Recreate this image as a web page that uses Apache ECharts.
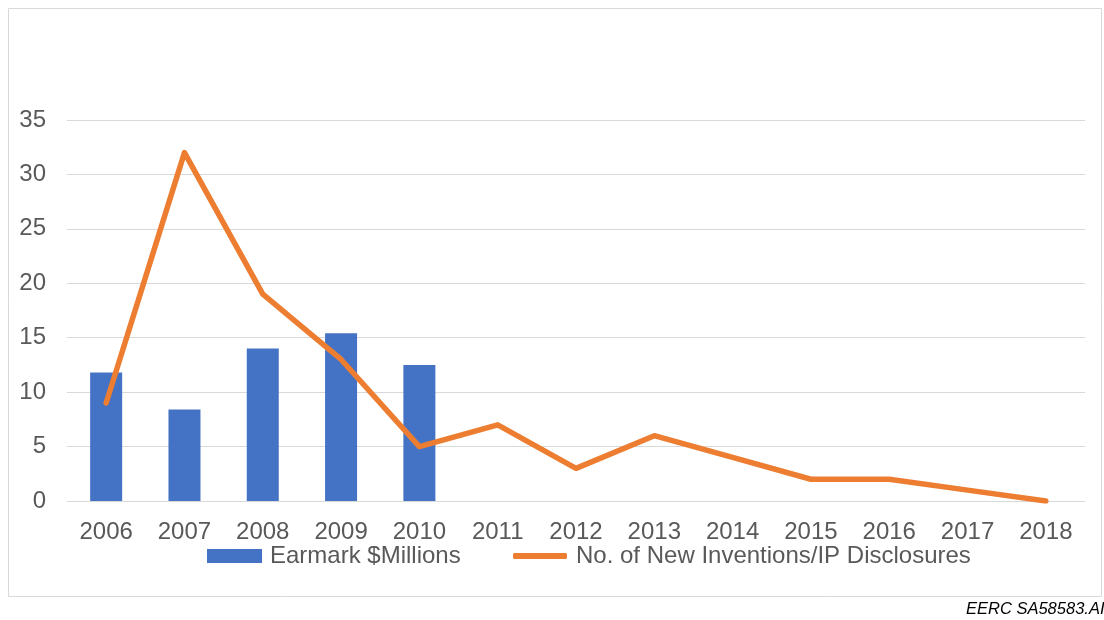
<!DOCTYPE html>
<html>
<head>
<meta charset="utf-8">
<script src="https://cdn.jsdelivr.net/npm/echarts@6/dist/echarts.min.js"></script>
<style>
html,body{margin:0;padding:0;background:#fff;}
#chart{width:1104px;height:620px;}
</style>
</head>
<body>
<div id="chart"></div>
<script>
const years = ['2006','2007','2008','2009','2010','2011','2012','2013','2014','2015','2016','2017','2018'];
const earmark = [11.8, 8.4, 14.0, 15.4, 12.5, null, null, null, null, null, null, null, null];
const disclosures = [9, 32, 19, 13, 5, 7, 3, 6, 4, 2, 2, 1, 0];
const yTicks = [0, 5, 10, 15, 20, 25, 30, 35];
const barName = 'Earmark $Millions';
const lineName = 'No. of New Inventions/IP Disclosures';
const footnote = 'EERC SA58583.AI';

const font = 'Liberation Sans, Arial, sans-serif';
const chart = echarts.init(document.getElementById('chart'));
chart.setOption({
  backgroundColor: '#fff',
  animation: false,
  grid: {left: 67, right: 19, top: 120, bottom: 119, containLabel: false},
  legend: [
    {data: [barName], left: 207, top: 544, padding: 0, icon: 'rect', itemWidth: 55, itemHeight: 14,
     textStyle: {fontFamily: font, fontSize: 24, color: '#595959', padding: [0,0,0,3]}},
    {data: [lineName], left: 513, top: 544, padding: 0, icon: 'roundRect', itemWidth: 54, itemHeight: 6,
     textStyle: {fontFamily: font, fontSize: 24, color: '#595959', padding: [0,0,0,4]}}
  ],
  xAxis: {
    type: 'category', data: years,
    axisLine: {show: true, lineStyle: {color: '#d9d9d9', width: 1}},
    axisTick: {show: false},
    axisLabel: {fontFamily: font, fontSize: 24, color: '#595959', margin: 19}
  },
  yAxis: {
    type: 'value', min: yTicks[0], max: yTicks[yTicks.length - 1], interval: 5,
    axisLine: {show: false}, axisTick: {show: false},
    splitLine: {lineStyle: {color: '#d9d9d9', width: 1}},
    axisLabel: {fontFamily: font, fontSize: 24, color: '#595959', margin: 21}
  },
  series: [
    {name: barName, type: 'bar', data: earmark, barWidth: 32, itemStyle: {color: '#4472C4'}},
    {name: lineName, type: 'line', data: disclosures, symbol: 'none',
     lineStyle: {color: '#ED7D31', width: 5.5, cap: 'round', join: 'round'}, itemStyle: {color: '#ED7D31'}}
  ],
  graphic: [
    {type: 'rect', shape: {x: 8.5, y: 8.5, width: 1093, height: 588},
     style: {fill: 'none', stroke: '#d9d9d9', lineWidth: 1}, z: -1},
    {type: 'text', x: 966, y: 609,
     style: {text: footnote, font: 'italic 16.5px Liberation Sans, Arial, sans-serif', fill: '#000', textVerticalAlign: 'middle'}}
  ]
});
</script>
</body>
</html>
